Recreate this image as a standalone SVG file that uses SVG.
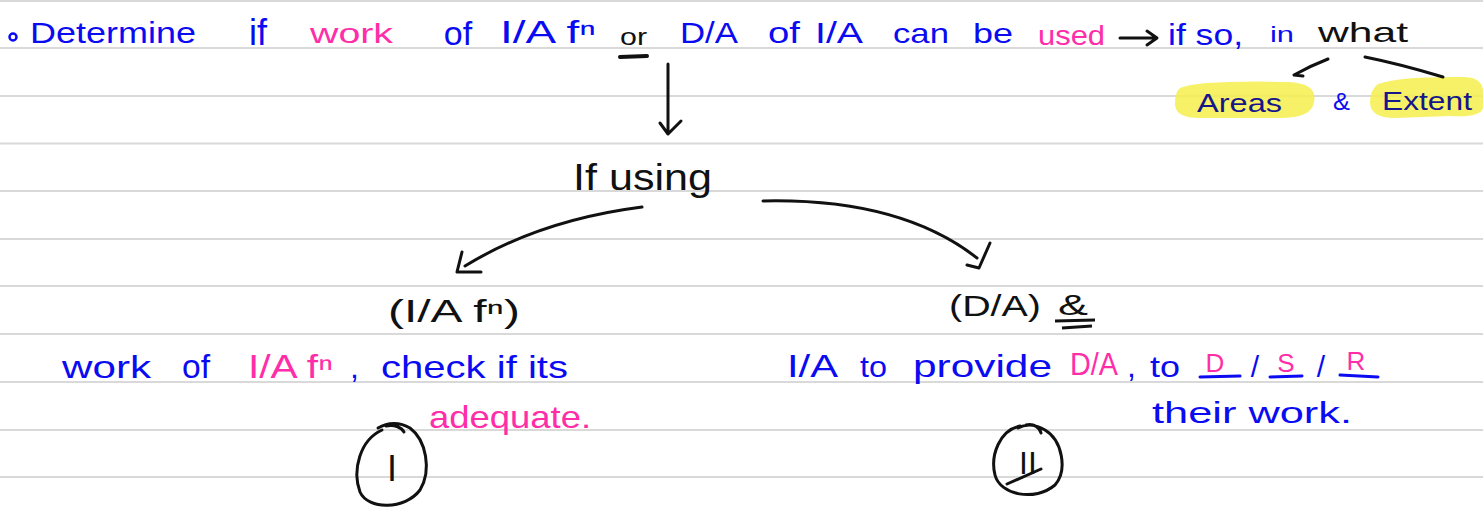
<svg xmlns="http://www.w3.org/2000/svg" width="1483" height="507" viewBox="0 0 1483 507">
<defs>
<style>
text{font-family:"Liberation Sans",Arial,sans-serif;}
.b{fill:#0b0bf2}
.p{fill:#ff2da8}
.k{fill:#111}
.n{fill:#16168a}
.s{stroke:#111;stroke-width:3;fill:none;stroke-linecap:round;stroke-linejoin:round}
.sb{stroke:#0b0bf2;stroke-width:3;fill:none;stroke-linecap:round}
.rule{stroke:#d9d9d9;stroke-width:2}
.hl{fill:#f5ee4c;opacity:0.85}
</style>
</defs>
<rect width="1483" height="507" fill="#ffffff"/>
<g id="rules">
<line class="rule" x1="0" y1="1" x2="1483" y2="1"/>
<line class="rule" x1="0" y1="48" x2="1483" y2="48"/>
<line class="rule" x1="0" y1="96" x2="1483" y2="96"/>
<line class="rule" x1="0" y1="143.5" x2="1483" y2="143.5"/>
<line class="rule" x1="0" y1="191" x2="1483" y2="191"/>
<line class="rule" x1="0" y1="239" x2="1483" y2="239"/>
<line class="rule" x1="0" y1="286" x2="1483" y2="286"/>
<line class="rule" x1="0" y1="334" x2="1483" y2="334"/>
<line class="rule" x1="0" y1="382" x2="1483" y2="382"/>
<line class="rule" x1="0" y1="430" x2="1483" y2="430"/>
<line class="rule" x1="0" y1="477" x2="1483" y2="477"/>
</g>
<g id="title">
<circle cx="13" cy="37" r="3.5" fill="none" stroke="#0b0bf2" stroke-width="2.5"/>
<text class="b" x="30" y="43" font-size="30" textLength="166" lengthAdjust="spacingAndGlyphs">Determine</text>
<text class="b" x="258" y="45" font-size="36" text-anchor="middle">if</text>
<text class="p" x="310" y="43" font-size="28" textLength="83" lengthAdjust="spacingAndGlyphs">work</text>
<text class="b" x="458" y="45" font-size="34" text-anchor="middle">of</text>
<text class="b" x="500" y="43" font-size="32" textLength="96" lengthAdjust="spacingAndGlyphs">I/A fⁿ</text>
<text class="k" x="620" y="45" font-size="24" textLength="27" lengthAdjust="spacingAndGlyphs">or</text>
<line x1="620" y1="57" x2="647" y2="56" stroke="#111" stroke-width="4" stroke-linecap="round"/>
<text class="b" x="680" y="43" font-size="30" textLength="58" lengthAdjust="spacingAndGlyphs">D/A</text>
<text class="b" x="768" y="43" font-size="30" textLength="32" lengthAdjust="spacingAndGlyphs">of</text>
<text class="b" x="815" y="43" font-size="30" textLength="48" lengthAdjust="spacingAndGlyphs">I/A</text>
<text class="b" x="893" y="43" font-size="28" textLength="56" lengthAdjust="spacingAndGlyphs">can</text>
<text class="b" x="973" y="43" font-size="28" textLength="40" lengthAdjust="spacingAndGlyphs">be</text>
<text class="p" x="1038" y="45" font-size="28" textLength="67" lengthAdjust="spacingAndGlyphs">used</text>
<text class="b" x="1168" y="45" font-size="30" textLength="75" lengthAdjust="spacingAndGlyphs">if so,</text>
<text class="b" x="1270" y="42" font-size="22" textLength="24" lengthAdjust="spacingAndGlyphs">in</text>
<text class="k" x="1318" y="42" font-size="28" textLength="90" lengthAdjust="spacingAndGlyphs">what</text>
</g>
<g id="areas">
<path class="hl" d="M1180,88 Q1200,80 1290,82 Q1318,84 1314,102 Q1312,118 1280,118 L1200,118 Q1175,118 1175,104 Q1175,92 1180,88 Z"/>
<text class="n" x="1197" y="112" font-size="26" textLength="85" lengthAdjust="spacingAndGlyphs">Areas</text>
</g>
<g id="amp">
<text class="b" x="1333" y="110" font-size="24" textLength="17" lengthAdjust="spacingAndGlyphs">&amp;</text>
</g>
<g id="extent">
<path class="hl" d="M1378,84 Q1400,76 1465,77 Q1483,78 1483,92 L1483,108 Q1480,118 1450,116 L1395,118 Q1370,118 1370,102 Q1370,90 1378,84 Z"/>
<text class="n" x="1382" y="110" font-size="26" textLength="90" lengthAdjust="spacingAndGlyphs">Extent</text>
</g>
<g id="if-using">
<text class="k" x="573" y="190" font-size="36" textLength="139" lengthAdjust="spacingAndGlyphs">If using</text>
</g>
<g id="node-ia-fn">
<text class="k" x="388" y="322" font-size="32" textLength="132" lengthAdjust="spacingAndGlyphs">(I/A fⁿ)</text>
<text class="b" x="62" y="378" font-size="32" textLength="89" lengthAdjust="spacingAndGlyphs">work</text>
<text class="b" x="182" y="378" font-size="34" textLength="28" lengthAdjust="spacingAndGlyphs">of</text>
<text class="p" x="248" y="378" font-size="34" textLength="85" lengthAdjust="spacingAndGlyphs">I/A fⁿ</text>
<text class="b" x="350" y="378" font-size="32">,</text>
<text class="b" x="381" y="378" font-size="32" textLength="187" lengthAdjust="spacingAndGlyphs">check if its</text>
<text class="p" x="429" y="428" font-size="32" textLength="162" lengthAdjust="spacingAndGlyphs">adequate.</text>
</g>
<g id="node-da">
<text class="k" x="949" y="316" font-size="30" textLength="92" lengthAdjust="spacingAndGlyphs">(D/A)</text>
<text class="k" x="1058" y="315" font-size="30" textLength="30" lengthAdjust="spacingAndGlyphs">&amp;</text>
<line x1="1055" y1="321" x2="1095" y2="320" stroke="#111" stroke-width="3"/>
<line x1="1062" y1="328" x2="1092" y2="326" stroke="#111" stroke-width="3"/>
<text class="b" x="787" y="377" font-size="32" textLength="51" lengthAdjust="spacingAndGlyphs">I/A</text>
<text class="b" x="860" y="377" font-size="30" textLength="27" lengthAdjust="spacingAndGlyphs">to</text>
<text class="b" x="913" y="377" font-size="32" textLength="139" lengthAdjust="spacingAndGlyphs">provide</text>
<text class="p" x="1070" y="375" font-size="32" textLength="48" lengthAdjust="spacingAndGlyphs">D/A</text>
<text class="b" x="1127" y="377" font-size="32">,</text>
<text class="b" x="1150" y="377" font-size="30" textLength="30" lengthAdjust="spacingAndGlyphs">to</text>
<text class="p" x="1215" y="372" font-size="26" text-anchor="middle">D</text>
<line class="sb" x1="1200" y1="377" x2="1240" y2="376"/>
<text class="b" x="1255" y="377" font-size="30" text-anchor="middle">/</text>
<text class="p" x="1286" y="372" font-size="26" text-anchor="middle">S</text>
<line class="sb" x1="1270" y1="377" x2="1302" y2="376"/>
<text class="b" x="1321" y="377" font-size="30" text-anchor="middle">/</text>
<text class="p" x="1356" y="370" font-size="26" text-anchor="middle">R</text>
<line class="sb" x1="1340" y1="375" x2="1378" y2="377"/>
<text class="b" x="1152" y="423" font-size="30" textLength="200" lengthAdjust="spacingAndGlyphs">their work.</text>
</g>
<g id="label-I">
<path class="s" d="M382,430 C360,440 352,470 360,492 C368,510 405,510 420,490 C432,470 426,440 410,428 C400,422 388,422 378,428 M386,426 C395,424 402,428 404,432"/>
<text class="k" x="392" y="481" font-size="36" font-family="Liberation Serif, serif" text-anchor="middle">I</text>
</g>
<g id="label-II">
<path class="s" d="M1020,426 C1000,430 990,455 995,475 C1000,495 1035,502 1055,485 C1068,470 1062,440 1045,430 C1035,424 1025,424 1018,428 M1026,425 C1034,423 1040,428 1041,433"/>
<text class="k" x="1028" y="474" font-size="32" font-family="Liberation Serif, serif" text-anchor="middle">II</text>
<line class="s" x1="1007" y1="484" x2="1041" y2="469"/>
</g>
<g id="connectors">
<path class="s" d="M1120,38 L1156,38 M1147,31 L1157,38 L1147,45"/>
<path class="s" d="M1328,59 Q1310,66 1294,75 M1294,75 L1303,76"/>
<path class="s" d="M1365,57 Q1400,64 1443,77"/>
<path class="s" d="M668,64 L668,134 M660,123 L668,134 L681,121"/>
<path class="s" d="M642,207 Q540,220 465,266 M462,252 L457,272 L481,272"/>
<path class="s" d="M763,201 Q900,198 977,258 M990,243 L979,268 L967,265"/>
</g>
</svg>
